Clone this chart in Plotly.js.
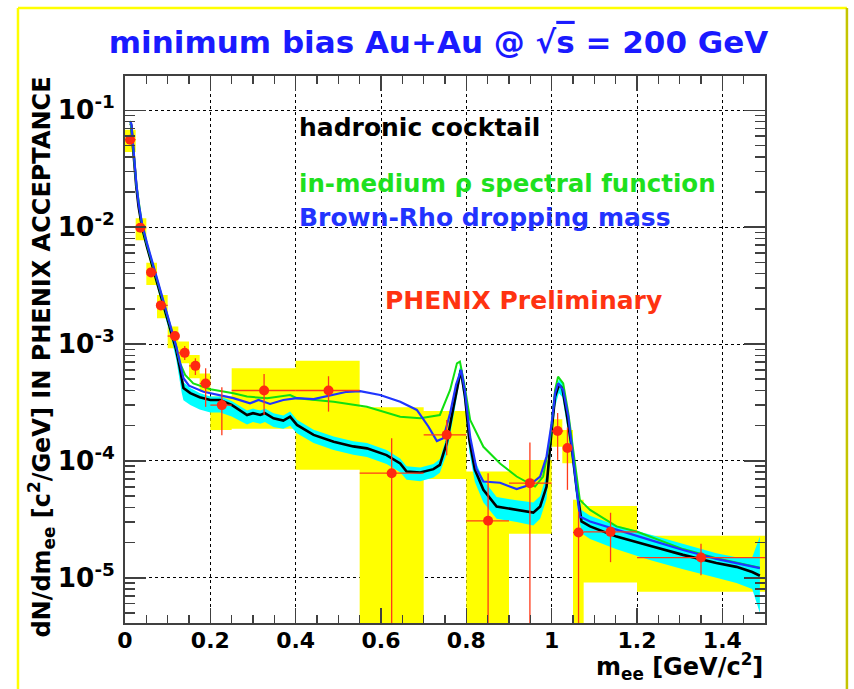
<!DOCTYPE html>
<html>
<head>
<meta charset="utf-8">
<script src="https://cdn.plot.ly/plotly-3.0.1.min.js"></script>
<style>html,body{margin:0;padding:0;background:#fff;}#chart{width:854px;height:689px;}</style>
</head>
<body>
<div id="chart"></div>
<script>
// ---------- data ----------
// PHENIX preliminary data points
const dataX   = [0.012,0.036,0.061,0.084,0.117,0.140,0.165,0.189,0.227,0.326,0.477,0.625,0.754,0.851,0.949,1.014,1.037,1.063,1.138,1.350];
const dataY   = [0.056,0.0099,0.0041,0.00214,0.00117,8.4e-4,6.5e-4,4.6e-4,3.0e-4,4.0e-4,4.0e-4,7.85e-5,1.67e-4,3.07e-5,6.45e-5,1.80e-4,1.29e-4,2.44e-5,2.47e-5,1.49e-5];
const dataXlo = [0,0.025,0.05,0.075,0.10,0.125,0.15,0.175,0.2,0.25,0.40,0.55,0.70,0.80,0.90,1.0,1.03,1.05,1.075,1.2];
const dataXhi = [0.025,0.05,0.075,0.10,0.125,0.15,0.175,0.2,0.25,0.40,0.55,0.70,0.80,0.90,1.0,1.027,1.045,1.075,1.2,1.5];
const dataYlo = [0.052,0.0092,0.0038,0.0020,0.00107,7.3e-4,5.43e-4,2.9e-4,1.66e-4,2.47e-4,2.64e-4,1e-6,1.12e-4,1e-6,1e-6,1.02e-4,5.65e-5,1e-6,1.36e-5,1.05e-5];
const dataYhi = [0.061,0.0107,0.0044,0.0023,0.00127,9.6e-4,7.55e-4,6.2e-4,4.27e-4,5.55e-4,5.3e-4,1.56e-4,2.24e-4,7.85e-5,1.44e-4,2.57e-4,1.93e-4,3.68e-5,3.6e-5,1.95e-5];

// systematic error boxes (yellow)
const sysXlo = [0,0.025,0.05,0.075,0.10,0.125,0.15,0.175,0.2,0.25,0.40,0.55,0.70,0.80,0.90,1.0,1.025,1.05,1.075,1.2];
const sysXhi = [0.025,0.05,0.075,0.10,0.125,0.15,0.175,0.2,0.25,0.40,0.55,0.70,0.80,0.90,1.0,1.025,1.05,1.075,1.2,1.5];
const sysYlo = [0.044,0.00774,0.00319,0.00166,9.2e-4,6.84e-4,5.09e-4,3.9e-4,1.84e-4,1.88e-4,8.4e-5,1e-6,7.0e-5,1e-6,2.38e-5,1.32e-4,9.55e-5,1e-6,9.1e-6,7.6e-6];
const sysYhi = [0.068,0.0119,0.00496,0.00262,0.00141,1.05e-3,8.05e-4,5.6e-4,3.55e-4,6.19e-4,7.2e-4,2.88e-4,2.67e-4,8.1e-5,1.02e-4,2.27e-4,1.84e-4,4.64e-5,4.12e-5,2.29e-5];

// hadronic cocktail (black) and its uncertainty band (cyan)
const cockX  = [0.013,0.0148,0.0187,0.0225,0.0265,0.0319,0.0398,0.0515,0.067,0.0827,0.0984,0.110,0.120,0.128,0.133,0.137,0.153,0.175,0.200,0.223,0.250,0.286,0.300,0.317,0.328,0.348,0.371,0.387,0.403,0.442,0.489,0.535,0.567,0.613,0.645,0.660,0.692,0.723,0.738,0.754,0.770,0.784,0.787,0.797,0.807,0.820,0.840,0.871,0.918,0.957,0.973,0.988,1.000,1.008,1.017,1.025,1.035,1.047,1.059,1.070,1.090,1.152,1.230,1.308,1.386,1.433,1.470,1.488];
const cockY  = [0.077,0.0744,0.0486,0.0327,0.0221,0.0149,0.01007,0.00679,0.00429,0.00271,0.00171,0.00123,8.9e-4,6.4e-4,4.92e-4,4.2e-4,3.8e-4,3.5e-4,3.32e-4,3.32e-4,3.01e-4,2.47e-4,2.56e-4,2.47e-4,2.56e-4,2.31e-4,2.21e-4,2.39e-4,2.03e-4,1.67e-4,1.46e-4,1.33e-4,1.28e-4,1.12e-4,9.5e-5,8.1e-5,7.95e-5,8.5e-5,9.25e-5,1.42e-4,2.91e-4,5.6e-4,6.0e-4,3.55e-4,1.51e-4,8.4e-5,5.65e-5,4.07e-5,3.81e-5,3.61e-5,4.07e-5,6.03e-5,1.84e-4,3.55e-4,4.47e-4,4.2e-4,2.56e-4,1.32e-4,5.65e-5,3.03e-5,2.75e-5,2.25e-5,1.88e-5,1.57e-5,1.34e-5,1.24e-5,1.12e-5,1.04e-5];
const cockHi = [0.083,0.080,0.053,0.036,0.0243,0.0164,0.0111,0.0075,0.0047,0.0030,0.00188,0.00136,0.00098,0.00072,0.00056,0.00047,0.00042,0.00038,0.000355,0.000355,0.000325,0.00027,0.00028,0.00027,0.00028,0.000255,0.000245,0.000265,0.000225,0.000185,0.000162,0.000147,0.000142,0.000124,0.000105,0.00009,0.000088,0.000094,0.000104,0.000162,0.00033,0.00062,0.00065,0.00042,0.000185,0.000102,0.000069,0.000049,0.000046,0.000044,0.00005,0.000076,0.00022,0.00041,0.0005,0.00048,0.0003,0.00016,0.00007,0.000038,0.000034,0.000028,0.0000235,0.0000195,0.0000162,0.000015,0.000015,0.0000225];
const cockLo = [0.071,0.068,0.044,0.0295,0.0199,0.0134,0.0090,0.0061,0.0038,0.0024,0.00150,0.00106,0.00074,0.00050,0.00038,0.00033,0.00030,0.000275,0.00026,0.00026,0.00024,0.000205,0.000215,0.000208,0.000215,0.000195,0.000188,0.0002,0.000172,0.000142,0.000124,0.000113,0.000108,0.000094,0.00008,0.000069,0.000067,0.000072,0.000079,0.000115,0.00024,0.00047,0.00052,0.00029,0.00012,0.000066,0.000044,0.000032,0.00003,0.000028,0.000032,0.000047,0.000145,0.00029,0.00038,0.00035,0.00021,0.000105,0.000044,0.000024,0.0000215,0.0000175,0.0000142,0.0000118,0.00001,0.000009,0.000008,0.000005];

// in-medium rho spectral function (green)
const rappX = [0.013,0.0187,0.0265,0.0398,0.0515,0.067,0.0827,0.0984,0.110,0.120,0.128,0.141,0.160,0.200,0.254,0.286,0.333,0.368,0.387,0.403,0.489,0.567,0.645,0.692,0.738,0.762,0.778,0.785,0.795,0.809,0.840,0.879,0.918,0.961,0.980,0.996,1.008,1.015,1.027,1.039,1.054,1.066,1.090,1.152,1.199,1.308,1.386,1.488];
const rappY = [0.079,0.051,0.0232,0.0105,0.0071,0.0045,0.00285,0.0018,0.0013,9.5e-4,7.0e-4,5.43e-4,4.6e-4,4.1e-4,3.79e-4,3.55e-4,3.44e-4,3.55e-4,3.66e-4,3.44e-4,3.21e-4,2.91e-4,2.39e-4,2.32e-4,2.47e-4,4.05e-4,6.84e-4,7.08e-4,4.6e-4,2.24e-4,1.32e-4,9.5e-5,7.35e-5,6.03e-5,7.35e-5,1.51e-4,4.05e-4,5.26e-4,4.6e-4,2.56e-4,9.5e-5,4.64e-5,3.81e-5,2.75e-5,2.49e-5,1.76e-5,1.47e-5,1.22e-5];

// Brown-Rho dropping mass (blue)
const brX = [0.012,0.0148,0.0187,0.0225,0.0265,0.0319,0.0398,0.0515,0.067,0.0827,0.0984,0.110,0.120,0.128,0.137,0.150,0.184,0.254,0.293,0.313,0.340,0.371,0.403,0.442,0.489,0.520,0.551,0.598,0.645,0.684,0.711,0.731,0.746,0.762,0.776,0.788,0.797,0.809,0.824,0.840,0.879,0.918,0.949,0.973,0.988,1.000,1.008,1.015,1.027,1.039,1.052,1.066,1.090,1.152,1.230,1.308,1.386,1.488];
const brY = [0.080,0.077,0.052,0.035,0.0238,0.016,0.0108,0.0073,0.00462,0.00292,0.00184,0.00133,9.6e-4,7.2e-4,5.1e-4,4.4e-4,3.9e-4,3.44e-4,3.11e-4,3.32e-4,3.07e-4,3.32e-4,3.44e-4,3.38e-4,3.66e-4,3.9e-4,3.95e-4,3.66e-4,3.21e-4,2.73e-4,1.97e-4,1.48e-4,1.56e-4,2.56e-4,4.5e-4,6.0e-4,3.9e-4,1.6e-4,8.5e-5,6.66e-5,6.5e-5,5.73e-5,6.24e-5,7.35e-5,1.09e-4,2.1e-4,3.79e-4,4.6e-4,4.05e-4,2.39e-4,9.5e-5,3.34e-5,3.03e-5,2.57e-5,2.11e-5,1.73e-5,1.45e-5,1.21e-5];

// text
const titleText = 'minimum bias Au+Au @ √<span style="text-decoration:overline">s</span> = 200 GeV';
const yTitle = 'dN/dm<sub>ee</sub> [c<sup>2</sup>/GeV] IN PHENIX ACCEPTANCE';
const xTitle = 'm<sub>ee</sub> [GeV/c<sup>2</sup>]';
const labels = ['hadronic cocktail','in-medium ρ spectral function','Brown-Rho dropping mass','PHENIX Preliminary'];
const yTickExp = [-1,-2,-3,-4,-5];

// ---------- build traces ----------
const FONT = 'DejaVu Sans, Liberation Sans, Arial, sans-serif';
const boxX = [], boxY = [];
for (let i = 0; i < sysXlo.length; i++) {
  boxX.push(sysXlo[i], sysXhi[i], sysXhi[i], sysXlo[i], sysXlo[i], null);
  boxY.push(sysYlo[i], sysYlo[i], sysYhi[i], sysYhi[i], sysYlo[i], null);
}
const bandX = cockX.concat(cockX.slice().reverse());
const bandY = cockHi.concat(cockLo.slice().reverse());

// tick label aliases: ROOT style short hyphen in the exponent
const alias = {};
yTickExp.forEach(e => {
  alias['10<sup>\u2212' + (-e) + '</sup>'] = '10<sup>-' + (-e) + '</sup>';
});

const traces = [
  {x: boxX, y: boxY, type: 'scatter', mode: 'lines', fill: 'toself', fillcolor: '#ffff00',
   line: {width: 0, color: '#ffff00'}, hoverinfo: 'skip'},
  {x: bandX, y: bandY, type: 'scatter', mode: 'lines', fill: 'toself', fillcolor: '#00ffff',
   line: {width: 0, color: '#00ffff'}, hoverinfo: 'skip'},
  {x: cockX, y: cockY, type: 'scatter', mode: 'lines', line: {color: '#000000', width: 2.6}},
  {x: rappX, y: rappY, type: 'scatter', mode: 'lines', line: {color: '#10e010', width: 2}},
  {x: brX, y: brY, type: 'scatter', mode: 'lines', line: {color: '#1f35ff', width: 2.2}},
  {x: dataX, y: dataY, type: 'scatter', mode: 'markers',
   marker: {color: '#ff2a10', size: 10, line: {width: 0}},
   error_x: {type: 'data', symmetric: false,
     array: dataX.map((v, i) => dataXhi[i] - v), arrayminus: dataX.map((v, i) => v - dataXlo[i]),
     color: '#ff3a1a', thickness: 1.3, width: 0},
   error_y: {type: 'data', symmetric: false,
     array: dataY.map((v, i) => dataYhi[i] - v), arrayminus: dataY.map((v, i) => v - dataYlo[i]),
     color: '#ff3a1a', thickness: 1.3, width: 0}}
];

const axisCommon = {
  showline: true, linecolor: '#404040', linewidth: 2, mirror: 'ticks',
  ticks: 'inside', tickcolor: '#404040', tickwidth: 1.5,
  showgrid: true, gridcolor: '#000000', gridwidth: 1, griddash: '3px,3px',
  zeroline: false
};

const layout = {
  width: 854, height: 689,
  margin: {l: 125, r: 89, t: 76, b: 66, pad: 0},
  paper_bgcolor: '#ffffff', plot_bgcolor: '#ffffff',
  showlegend: false,
  title: {text: titleText, x: 0.5135, xref: 'container', xanchor: 'center',
          y: 0.939, yref: 'container', yanchor: 'middle',
          font: {family: FONT, size: 31, color: '#1a1aff', weight: 'bold'}},
  xaxis: Object.assign({}, axisCommon, {
    range: [0, 1.5], tick0: 0, dtick: 0.2, ticklen: 15,
    minor: {dtick: 0.05, ticks: 'inside', ticklen: 8, tickcolor: '#404040', tickwidth: 1.5, showgrid: false},
    tickfont: {family: FONT, size: 22, color: '#000', weight: 'bold'},
    ticklabelstandoff: -3
  }),
  yaxis: Object.assign({}, axisCommon, {
    type: 'log', range: [-5.387, -0.707], dtick: 1, exponentformat: 'power', ticklen: 21,
    minor: {dtick: 'D1', ticks: 'inside', ticklen: 10, tickcolor: '#404040', tickwidth: 1.5, showgrid: false},
    tickfont: {family: FONT, size: 21, color: '#000', weight: 'bold'},
    labelalias: alias,
    ticklabelstandoff: 4
  }),
  annotations: [
    {text: labels[0], xref: 'paper', yref: 'paper', x: 0.268, y: 0.905, xanchor: 'left', yanchor: 'middle',
     showarrow: false, font: {family: FONT, size: 25, color: '#000000', weight: 'bold'}},
    {text: labels[1], xref: 'paper', yref: 'paper', x: 0.268, y: 0.804, xanchor: 'left', yanchor: 'middle',
     showarrow: false, font: {family: FONT, size: 24.5, color: '#1ee01e', weight: 'bold'}},
    {text: labels[2], xref: 'paper', yref: 'paper', x: 0.268, y: 0.742, xanchor: 'left', yanchor: 'middle',
     showarrow: false, font: {family: FONT, size: 25, color: '#2233ff', weight: 'bold'}},
    {text: labels[3], xref: 'paper', yref: 'paper', x: 0.403, y: 0.590, xanchor: 'left', yanchor: 'middle',
     showarrow: false, font: {family: FONT, size: 25, color: '#ff3311', weight: 'bold'}},
    {text: yTitle, xref: 'paper', yref: 'paper', x: -0.1297, y: 0.487, xanchor: 'center', yanchor: 'middle',
     textangle: -90, showarrow: false, font: {family: FONT, size: 24, color: '#000000', weight: 'bold'}},
    {text: xTitle, xref: 'paper', yref: 'paper', x: 1.0, y: -0.079, xanchor: 'right', yanchor: 'middle',
     showarrow: false, font: {family: FONT, size: 24, color: '#000000', weight: 'bold'}}
  ],
  shapes: [
    {type: 'line', xref: 'paper', yref: 'paper', x0: -0.1672, x1: -0.1672, y0: -0.2, y1: 1.1243, line: {color: '#ffff00', width: 2.5}},
    {type: 'line', xref: 'paper', yref: 'paper', x0: -0.1672, x1: 1.128, y0: 1.1243, y1: 1.1243, line: {color: '#ffff00', width: 2.5}},
    {type: 'line', xref: 'paper', yref: 'paper', x0: 1.128, x1: 1.128, y0: -0.2, y1: 1.1243, line: {color: '#c4c400', width: 2.5}}
  ]
};

Plotly.newPlot('chart', traces, layout, {displayModeBar: false, staticPlot: true});
</script>
</body>
</html>
